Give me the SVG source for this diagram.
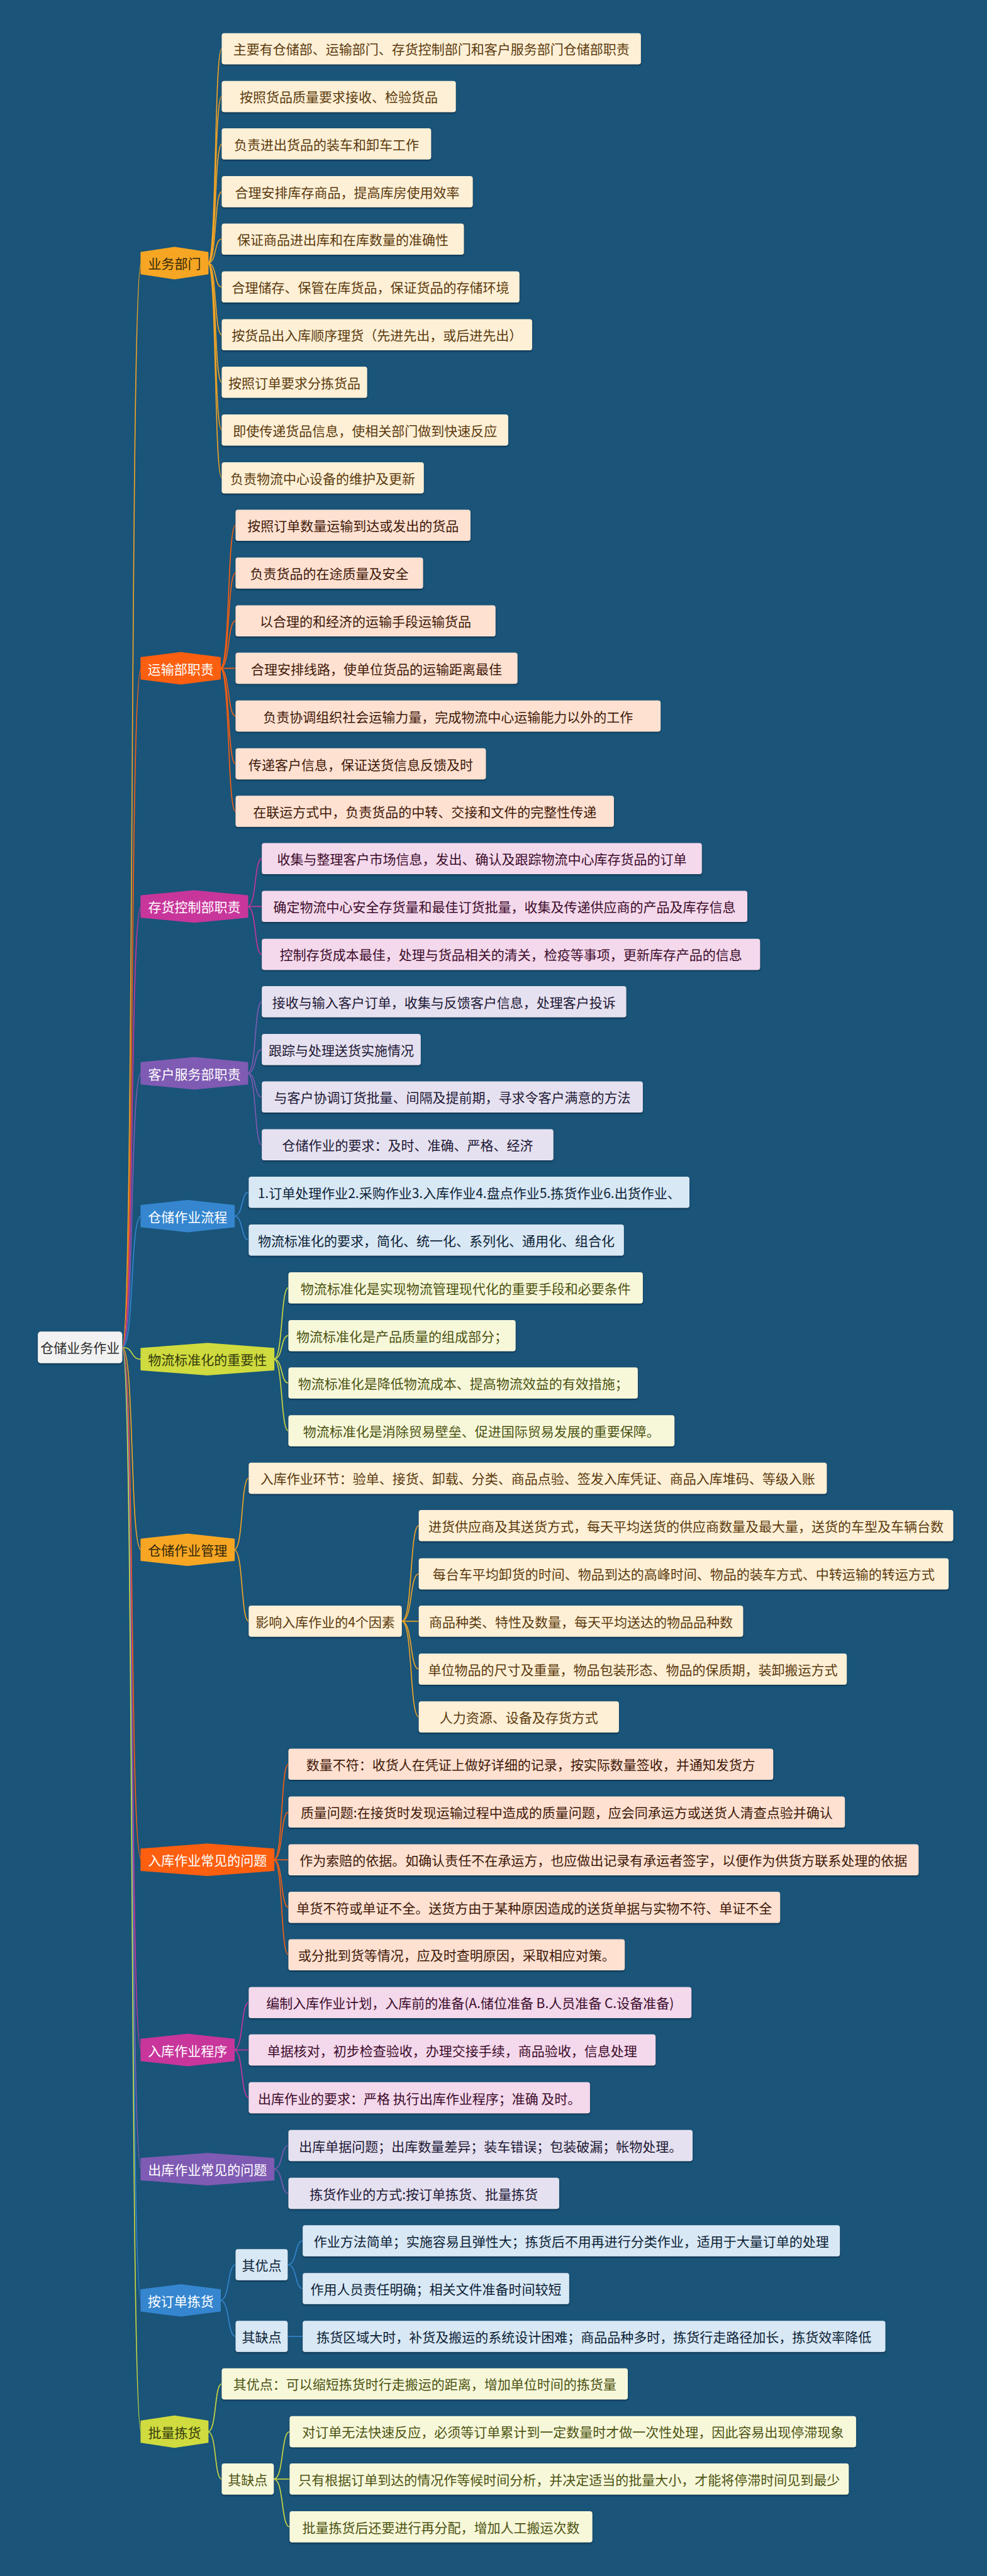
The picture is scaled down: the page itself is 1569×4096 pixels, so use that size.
<svg xmlns="http://www.w3.org/2000/svg" width="1569" height="4096" viewBox="0 0 1569 4096">
<defs>
<filter id="sh" x="-5%" y="-20%" width="110%" height="150%"><feDropShadow dx="0" dy="1.6" stdDeviation="0.9" flood-color="#06243a" flood-opacity="0.75"/></filter>
<style>
text{font-family:"Noto Sans CJK SC","Noto Sans",sans-serif;font-size:21px;text-anchor:middle;dominant-baseline:central}
.lf{filter:url(#sh)}
.l1{fill:#FEF0D6}.t1{fill:#5B3A0E}
.l2{fill:#FEE1D1}.t2{fill:#3E1808}
.l3{fill:#F4D8EB}.t3{fill:#3C0C2C}
.l4{fill:#E6E1F0}.t4{fill:#1C1835}
.l5{fill:#D8E8F5}.t5{fill:#0C2236}
.l6{fill:#F7F8DA}.t6{fill:#4C5312}
.hx{stroke-width:2;stroke-linejoin:round}
.h1{fill:#F6A623;stroke:#F6A623}.h2{fill:#FC5F0F;stroke:#FC5F0F}.h3{fill:#C8369B;stroke:#C8369B}
.h4{fill:#7F5BB4;stroke:#7F5BB4}.h5{fill:#3586CF;stroke:#3586CF}.h6{fill:#CFDB3E;stroke:#CFDB3E}
.hd{fill:#33270A}.hw{fill:#FFFFFF}.ho{fill:#333A0D}
#connectors path{fill:none;stroke-width:1.6}
.c1{stroke:#F6A623}.c2{stroke:#FC5F0F}.c3{stroke:#C8369B}.c4{stroke:#7F5BB4}.c5{stroke:#3586CF}.c6{stroke:#CFDB3E}
</style>
</defs>
<rect x="0" y="0" width="1569" height="4096" fill="#1A5479"/>

<g id="connectors">
<path class="c1" d="M194.3,2142.45 C214,2142.45 206,418.35 224.4,418.35"/>
<path class="c2" d="M194.3,2142.45 C214,2142.45 206,1062.65 224.4,1062.65"/>
<path class="c3" d="M194.3,2142.45 C214,2142.45 206,1441.45 224.4,1441.45"/>
<path class="c4" d="M194.3,2142.45 C214,2142.45 206,1706.6 224.4,1706.6"/>
<path class="c5" d="M194.3,2142.45 C214,2142.45 206,1933.65 224.4,1933.65"/>
<path class="c6" d="M194.3,2142.45 C214,2142.45 206,2161.15 224.4,2161.15"/>
<path class="c1" d="M194.3,2142.45 C214,2142.45 206,2464.25 224.4,2464.25"/>
<path class="c2" d="M194.3,2142.45 C214,2142.45 206,2957.1 224.4,2957.1"/>
<path class="c3" d="M194.3,2142.45 C214,2142.45 206,3259.6 224.4,3259.6"/>
<path class="c4" d="M194.3,2142.45 C214,2142.45 206,3449.05 224.4,3449.05"/>
<path class="c5" d="M194.3,2142.45 C214,2142.45 206,3657.8 224.4,3657.8"/>
<path class="c6" d="M194.3,2142.45 C214,2142.45 206,3866.5 224.4,3866.5"/>

<path class="c1" d="M330.4,418.35 C344.8,418.35 340.3,77.45 352.5,77.45"/>
<path class="c1" d="M330.4,418.35 C344.8,418.35 340.3,153.45 352.5,153.45"/>
<path class="c1" d="M330.4,418.35 C344.8,418.35 340.3,228.85 352.5,228.85"/>
<path class="c1" d="M330.4,418.35 C344.8,418.35 340.3,304.85 352.5,304.85"/>
<path class="c1" d="M330.4,418.35 C344.8,418.35 340.3,380.25 352.5,380.25"/>
<path class="c1" d="M330.4,418.35 C344.8,418.35 340.3,456.35 352.5,456.35"/>
<path class="c1" d="M330.4,418.35 C344.8,418.35 340.3,532.35 352.5,532.35"/>
<path class="c1" d="M330.4,418.35 C344.8,418.35 340.3,607.75 352.5,607.75"/>
<path class="c1" d="M330.4,418.35 C344.8,418.35 340.3,683.75 352.5,683.75"/>
<path class="c1" d="M330.4,418.35 C344.8,418.35 340.3,759.75 352.5,759.75"/>

<path class="c2" d="M350,1062.65 C365.9,1062.65 361,835.15 374.5,835.15"/>
<path class="c2" d="M350,1062.65 C365.9,1062.65 361,911.15 374.5,911.15"/>
<path class="c2" d="M350,1062.65 C365.9,1062.65 361,987.15 374.5,987.15"/>
<path class="c2" d="M350,1062.65 C365.9,1062.65 361,1062.55 374.5,1062.55"/>
<path class="c2" d="M350,1062.65 C365.9,1062.65 361,1138.55 374.5,1138.55"/>
<path class="c2" d="M350,1062.65 C365.9,1062.65 361,1214.55 374.5,1214.55"/>
<path class="c2" d="M350,1062.65 C365.9,1062.65 361,1289.95 374.5,1289.95"/>

<path class="c3" d="M393.5,1441.45 C408.3,1441.45 403.7,1365.35 416.2,1365.35"/>
<path class="c3" d="M393.5,1441.45 C408.3,1441.45 403.7,1441.35 416.2,1441.35"/>
<path class="c3" d="M393.5,1441.45 C408.3,1441.45 403.7,1517.45 416.2,1517.45"/>

<path class="c4" d="M393.5,1706.6 C408.3,1706.6 403.7,1592.85 416.2,1592.85"/>
<path class="c4" d="M393.5,1706.6 C408.3,1706.6 403.7,1668.85 416.2,1668.85"/>
<path class="c4" d="M393.5,1706.6 C408.3,1706.6 403.7,1744.25 416.2,1744.25"/>
<path class="c4" d="M393.5,1706.6 C408.3,1706.6 403.7,1820.25 416.2,1820.25"/>

<path class="c5" d="M372.1,1933.65 C387.2,1933.65 382.6,1895.65 395.4,1895.65"/>
<path class="c5" d="M372.1,1933.65 C387.2,1933.65 382.6,1971.65 395.4,1971.65"/>

<path class="c6" d="M435.2,2161.15 C450.3,2161.15 445.7,2047.65 458.5,2047.65"/>
<path class="c6" d="M435.2,2161.15 C450.3,2161.15 445.7,2123.65 458.5,2123.65"/>
<path class="c6" d="M435.2,2161.15 C450.3,2161.15 445.7,2199.05 458.5,2199.05"/>
<path class="c6" d="M435.2,2161.15 C450.3,2161.15 445.7,2275.05 458.5,2275.05"/>

<path class="c1" d="M372.1,2464.25 C387.2,2464.25 382.6,2350.45 395.4,2350.45"/>
<path class="c1" d="M372.1,2464.25 C387.2,2464.25 382.6,2577.85 395.4,2577.85"/>
<path class="c1" d="M638.7,2577.85 C656.3,2577.85 650.9,2425.85 665.7,2425.85"/>
<path class="c1" d="M638.7,2577.85 C656.3,2577.85 650.9,2502.45 665.7,2502.45"/>
<path class="c1" d="M638.7,2577.85 C656.3,2577.85 650.9,2577.85 665.7,2577.85"/>
<path class="c1" d="M638.7,2577.85 C656.3,2577.85 650.9,2653.95 665.7,2653.95"/>
<path class="c1" d="M638.7,2577.85 C656.3,2577.85 650.9,2729.95 665.7,2729.95"/>

<path class="c2" d="M435.2,2957.1 C450.3,2957.1 445.7,2805.35 458.5,2805.35"/>
<path class="c2" d="M435.2,2957.1 C450.3,2957.1 445.7,2881.35 458.5,2881.35"/>
<path class="c2" d="M435.2,2957.1 C450.3,2957.1 445.7,2957.35 458.5,2957.35"/>
<path class="c2" d="M435.2,2957.1 C450.3,2957.1 445.7,3032.75 458.5,3032.75"/>
<path class="c2" d="M435.2,2957.1 C450.3,2957.1 445.7,3108.15 458.5,3108.15"/>

<path class="c3" d="M372.1,3259.6 C387.2,3259.6 382.6,3184.15 395.4,3184.15"/>
<path class="c3" d="M372.1,3259.6 C387.2,3259.6 382.6,3259.55 395.4,3259.55"/>
<path class="c3" d="M372.1,3259.6 C387.2,3259.6 382.6,3335.55 395.4,3335.55"/>

<path class="c4" d="M435.2,3449.05 C450.3,3449.05 445.7,3411.55 458.5,3411.55"/>
<path class="c4" d="M435.2,3449.05 C450.3,3449.05 445.7,3487.55 458.5,3487.55"/>

<path class="c5" d="M350,3657.8 C365.9,3657.8 361,3600.95 374.5,3600.95"/>
<path class="c5" d="M350,3657.8 C365.9,3657.8 361,3715.05 374.5,3715.05"/>
<path class="c5" d="M457.3,3600.95 C472.8,3600.95 468.1,3562.95 481.2,3562.95"/>
<path class="c5" d="M457.3,3600.95 C472.8,3600.95 468.1,3638.95 481.2,3638.95"/>
<path class="c5" d="M457.3,3715.05 L481.2,3715.05"/>

<path class="c6" d="M330.4,3866.5 C344.8,3866.5 340.3,3790.45 352.5,3790.45"/>
<path class="c6" d="M330.4,3866.5 C344.8,3866.5 340.3,3941.85 352.5,3941.85"/>
<path class="c6" d="M435.2,3941.85 C451.6,3941.85 446.5,3866.45 460.4,3866.45"/>
<path class="c6" d="M435.2,3941.85 C451.6,3941.85 446.5,3941.85 460.4,3941.85"/>
<path class="c6" d="M435.2,3941.85 C451.6,3941.85 446.5,4017.85 460.4,4017.85"/>
</g>

<g id="root"><rect class="lf" x="60.1" y="2117.3" width="134.2" height="50.3" rx="5" fill="#F2F2F2"/><text x="127.2" y="2142.45" fill="#2b2b2b">仓储业务作业</text></g>

<g id="b1"><polygon class="hx h1" points="224.4,401.5 277.4,393.5 330.4,401.5 330.4,435.2 277.4,443.2 224.4,435.2"/><text class="hd" x="277.4" y="418.35">业务部门</text></g>
<g id="b1n1"><rect class="lf l1" x="352.5" y="52.7" width="666.3" height="49.5" rx="4"/><text class="t1" x="685.65" y="77.45">主要有仓储部、运输部门、存货控制部门和客户服务部门仓储部职责</text></g>
<g id="b1n2"><rect class="lf l1" x="352.5" y="128.7" width="372.1" height="49.5" rx="4"/><text class="t1" x="538.55" y="153.45">按照货品质量要求接收、检验货品</text></g>
<g id="b1n3"><rect class="lf l1" x="352.5" y="204.1" width="332.8" height="49.5" rx="4"/><text class="t1" x="518.9" y="228.85">负责进出货品的装车和卸车工作</text></g>
<g id="b1n4"><rect class="lf l1" x="352.5" y="280.1" width="399" height="49.5" rx="4"/><text class="t1" x="552" y="304.85">合理安排库存商品，提高库房使用效率</text></g>
<g id="b1n5"><rect class="lf l1" x="352.5" y="355.5" width="384.9" height="49.5" rx="4"/><text class="t1" x="544.95" y="380.25">保证商品进出库和在库数量的准确性</text></g>
<g id="b1n6"><rect class="lf l1" x="352.5" y="431.6" width="473.2" height="49.5" rx="4"/><text class="t1" x="589.1" y="456.35">合理储存、保管在库货品，保证货品的存储环境</text></g>
<g id="b1n7"><rect class="lf l1" x="352.5" y="507.6" width="493.4" height="49.5" rx="4"/><text class="t1" x="599.2" y="532.35">按货品出入库顺序理货（先进先出，或后进先出）</text></g>
<g id="b1n8"><rect class="lf l1" x="352.5" y="583" width="231.1" height="49.5" rx="4"/><text class="t1" x="468.05" y="607.75">按照订单要求分拣货品</text></g>
<g id="b1n9"><rect class="lf l1" x="352.5" y="659" width="455.4" height="49.5" rx="4"/><text class="t1" x="580.2" y="683.75">即使传递货品信息，使相关部门做到快速反应</text></g>
<g id="b1n10"><rect class="lf l1" x="352.5" y="735" width="321.2" height="49.5" rx="4"/><text class="t1" x="513.1" y="759.75">负责物流中心设备的维护及更新</text></g>

<g id="b2"><polygon class="hx h2" points="224.4,1045.8 287.2,1037.8 350,1045.8 350,1079.5 287.2,1087.5 224.4,1079.5"/><text class="hw" x="287.2" y="1062.65">运输部职责</text></g>
<g id="b2n1"><rect class="lf l2" x="374.5" y="810.4" width="373.4" height="49.5" rx="4"/><text class="t2" x="561.2" y="835.15">按照订单数量运输到达或发出的货品</text></g>
<g id="b2n2"><rect class="lf l2" x="374.5" y="886.4" width="298" height="49.5" rx="4"/><text class="t2" x="523.5" y="911.15">负责货品的在途质量及安全</text></g>
<g id="b2n3"><rect class="lf l2" x="374.5" y="962.4" width="413.2" height="49.5" rx="4"/><text class="t2" x="581.1" y="987.15">以合理的和经济的运输手段运输货品</text></g>
<g id="b2n4"><rect class="lf l2" x="374.5" y="1037.8" width="448.1" height="49.5" rx="4"/><text class="t2" x="598.55" y="1062.55">合理安排线路，使单位货品的运输距离最佳</text></g>
<g id="b2n5"><rect class="lf l2" x="374.5" y="1113.8" width="675.6" height="49.5" rx="4"/><text class="t2" x="712.3" y="1138.55">负责协调组织社会运输力量，完成物流中心运输能力以外的工作</text></g>
<g id="b2n6"><rect class="lf l2" x="374.5" y="1189.8" width="397.9" height="49.5" rx="4"/><text class="t2" x="573.45" y="1214.55">传递客户信息，保证送货信息反馈及时</text></g>
<g id="b2n7"><rect class="lf l2" x="374.5" y="1265.2" width="601.4" height="49.5" rx="4"/><text class="t2" x="675.2" y="1289.95">在联运方式中，负责货品的中转、交接和文件的完整性传递</text></g>

<g id="b3"><polygon class="hx h3" points="224.4,1424.6 308.95,1416.6 393.5,1424.6 393.5,1458.3 308.95,1466.3 224.4,1458.3"/><text class="hw" x="308.95" y="1441.45">存货控制部职责</text></g>
<g id="b3n1"><rect class="lf l3" x="416.2" y="1340.6" width="699.5" height="49.5" rx="4"/><text class="t3" x="765.95" y="1365.35">收集与整理客户市场信息，发出、确认及跟踪物流中心库存货品的订单</text></g>
<g id="b3n2"><rect class="lf l3" x="416.2" y="1416.6" width="771.8" height="49.5" rx="4"/><text class="t3" x="802.1" y="1441.35">确定物流中心安全存货量和最佳订货批量，收集及传递供应商的产品及库存信息</text></g>
<g id="b3n3"><rect class="lf l3" x="416.2" y="1492.7" width="792" height="49.5" rx="4"/><text class="t3" x="812.2" y="1517.45">控制存货成本最佳，处理与货品相关的清关，检疫等事项，更新库存产品的信息</text></g>

<g id="b4"><polygon class="hx h4" points="224.4,1689.8 308.95,1681.8 393.5,1689.8 393.5,1723.4 308.95,1731.4 224.4,1723.4"/><text class="hw" x="308.95" y="1706.6">客户服务部职责</text></g>
<g id="b4n1"><rect class="lf l4" x="416.2" y="1568.1" width="579.3" height="49.5" rx="4"/><text class="t4" x="705.85" y="1592.85">接收与输入客户订单，收集与反馈客户信息，处理客户投诉</text></g>
<g id="b4n2"><rect class="lf l4" x="416.2" y="1644.1" width="252.6" height="49.5" rx="4"/><text class="t4" x="542.5" y="1668.85">跟踪与处理送货实施情况</text></g>
<g id="b4n3"><rect class="lf l4" x="416.2" y="1719.5" width="605.7" height="49.5" rx="4"/><text class="t4" x="719.05" y="1744.25">与客户协调订货批量、间隔及提前期，寻求令客户满意的方法</text></g>
<g id="b4n4"><rect class="lf l4" x="416.2" y="1795.5" width="463.5" height="49.5" rx="4"/><text class="t4" x="647.95" y="1820.25">仓储作业的要求：及时、准确、严格、经济</text></g>

<g id="b5"><polygon class="hx h5" points="224.4,1916.9 298.25,1908.9 372.1,1916.9 372.1,1950.4 298.25,1958.4 224.4,1950.4"/><text class="hw" x="298.25" y="1933.65">仓储作业流程</text></g>
<g id="b5n1"><rect class="lf l5" x="395.4" y="1870.9" width="700.6" height="49.5" rx="4"/><text class="t5" x="745.7" y="1895.65">1.订单处理作业2.采购作业3.入库作业4.盘点作业5.拣货作业6.出货作业、</text></g>
<g id="b5n2"><rect class="lf l5" x="395.4" y="1946.9" width="596.4" height="49.5" rx="4"/><text class="t5" x="693.6" y="1971.65">物流标准化的要求，简化、统一化、系列化、通用化、组合化</text></g>

<g id="b6"><polygon class="hx h6" points="224.4,2144.3 329.8,2136.3 435.2,2144.3 435.2,2178 329.8,2186 224.4,2178"/><text class="ho" x="329.8" y="2161.15">物流标准化的重要性</text></g>
<g id="b6n1"><rect class="lf l6" x="458.5" y="2022.9" width="563.4" height="49.5" rx="4"/><text class="t6" x="740.2" y="2047.65">物流标准化是实现物流管理现代化的重要手段和必要条件</text></g>
<g id="b6n2"><rect class="lf l6" x="458.5" y="2098.9" width="361.1" height="49.5" rx="4"/><text class="t6" x="639.05" y="2123.65">物流标准化是产品质量的组成部分；</text></g>
<g id="b6n3"><rect class="lf l6" x="458.5" y="2174.3" width="555.4" height="49.5" rx="4"/><text class="t6" x="736.2" y="2199.05">物流标准化是降低物流成本、提高物流效益的有效措施；</text></g>
<g id="b6n4"><rect class="lf l6" x="458.5" y="2250.3" width="613.6" height="49.5" rx="4"/><text class="t6" x="765.3" y="2275.05">物流标准化是消除贸易壁垒、促进国际贸易发展的重要保障。</text></g>

<g id="b7"><polygon class="hx h1" points="224.4,2447.5 298.25,2439.5 372.1,2447.5 372.1,2481 298.25,2489 224.4,2481"/><text class="hd" x="298.25" y="2464.25">仓储作业管理</text></g>
<g id="b7n1"><rect class="lf l1" x="395.4" y="2325.7" width="918.9" height="49.5" rx="4"/><text class="t1" x="854.85" y="2350.45">入库作业环节：验单、接货、卸载、分类、商品点验、签发入库凭证、商品入库堆码、等级入账</text></g>
<g id="b7n2"><rect class="lf l1" x="395.4" y="2553.1" width="243.3" height="49.5" rx="4"/><text class="t1" x="517.05" y="2577.85">影响入库作业的4个因素</text></g>
<g id="b7n2a"><rect class="lf l1" x="665.7" y="2401.1" width="849.6" height="49.5" rx="4"/><text class="t1" x="1090.5" y="2425.85">进货供应商及其送货方式，每天平均送货的供应商数量及最大量，送货的车型及车辆台数</text></g>
<g id="b7n2b"><rect class="lf l1" x="665.7" y="2477.7" width="842.3" height="49.5" rx="4"/><text class="t1" x="1086.85" y="2502.45">每台车平均卸货的时间、物品到达的高峰时间、物品的装车方式、中转运输的转运方式</text></g>
<g id="b7n2c"><rect class="lf l1" x="665.7" y="2553.1" width="515.6" height="49.5" rx="4"/><text class="t1" x="923.5" y="2577.85">商品种类、特性及数量，每天平均送达的物品品种数</text></g>
<g id="b7n2d"><rect class="lf l1" x="665.7" y="2629.2" width="680.4" height="49.5" rx="4"/><text class="t1" x="1005.9" y="2653.95">单位物品的尺寸及重量，物品包装形态、物品的保质期，装卸搬运方式</text></g>
<g id="b7n2e"><rect class="lf l1" x="665.7" y="2705.2" width="318.2" height="49.5" rx="4"/><text class="t1" x="824.8" y="2729.95">人力资源、设备及存货方式</text></g>

<g id="b8"><polygon class="hx h2" points="224.4,2940.3 329.8,2932.3 435.2,2940.3 435.2,2973.9 329.8,2981.9 224.4,2973.9"/><text class="hw" x="329.8" y="2957.1">入库作业常见的问题</text></g>
<g id="b8n1"><rect class="lf l2" x="458.5" y="2780.6" width="770.6" height="49.5" rx="4"/><text class="t2" x="843.8" y="2805.35">数量不符：收货人在凭证上做好详细的记录，按实际数量签收，并通知发货方</text></g>
<g id="b8n2"><rect class="lf l2" x="458.5" y="2856.6" width="884.6" height="49.5" rx="4"/><text class="t2" x="900.8" y="2881.35">质量问题:在接货时发现运输过程中造成的质量问题，应会同承运方或送货人清查点验并确认</text></g>
<g id="b8n3"><rect class="lf l2" x="458.5" y="2932.6" width="1001.7" height="49.5" rx="4"/><text class="t2" x="959.35" y="2957.35">作为索赔的依据。如确认责任不在承运方，也应做出记录有承运者签字，以便作为供货方联系处理的依据</text></g>
<g id="b8n4"><rect class="lf l2" x="458.5" y="3008" width="781.6" height="49.5" rx="4"/><text class="t2" x="849.3" y="3032.75">单货不符或单证不全。送货方由于某种原因造成的送货单据与实物不符、单证不全</text></g>
<g id="b8n5"><rect class="lf l2" x="458.5" y="3083.4" width="534.6" height="49.5" rx="4"/><text class="t2" x="725.8" y="3108.15">或分批到货等情况，应及时查明原因，采取相应对策。</text></g>

<g id="b9"><polygon class="hx h3" points="224.4,3242.8 298.25,3234.8 372.1,3242.8 372.1,3276.4 298.25,3284.4 224.4,3276.4"/><text class="hw" x="298.25" y="3259.6">入库作业程序</text></g>
<g id="b9n1"><rect class="lf l3" x="395.4" y="3159.4" width="703.7" height="49.5" rx="4"/><text class="t3" x="747.25" y="3184.15">编制入库作业计划，入库前的准备(A.储位准备 B.人员准备 C.设备准备)</text></g>
<g id="b9n2"><rect class="lf l3" x="395.4" y="3234.8" width="646.7" height="49.5" rx="4"/><text class="t3" x="718.75" y="3259.55">单据核对，初步检查验收，办理交接手续，商品验收，信息处理</text></g>
<g id="b9n3"><rect class="lf l3" x="395.4" y="3310.8" width="542.5" height="49.5" rx="4"/><text class="t3" x="666.65" y="3335.55">出库作业的要求：严格 执行出库作业程序；准确 及时。</text></g>

<g id="b10"><polygon class="hx h4" points="224.4,3432.2 329.8,3424.2 435.2,3432.2 435.2,3465.9 329.8,3473.9 224.4,3465.9"/><text class="hw" x="329.8" y="3449.05">出库作业常见的问题</text></g>
<g id="b10n1"><rect class="lf l4" x="458.5" y="3386.8" width="642.5" height="49.5" rx="4"/><text class="t4" x="779.75" y="3411.55">出库单据问题；出库数量差异；装车错误；包装破漏；帐物处理。</text></g>
<g id="b10n2"><rect class="lf l4" x="458.5" y="3462.8" width="430.4" height="49.5" rx="4"/><text class="t4" x="673.7" y="3487.55">拣货作业的方式:按订单拣货、批量拣货</text></g>

<g id="b11"><polygon class="hx h5" points="224.4,3641 287.2,3633 350,3641 350,3674.6 287.2,3682.6 224.4,3674.6"/><text class="hw" x="287.2" y="3657.8">按订单拣货</text></g>
<g id="b11a"><rect class="lf l5" x="374.5" y="3576.2" width="82.8" height="49.5" rx="4"/><text class="t5" x="415.9" y="3600.95">其优点</text></g>
<g id="b11b"><rect class="lf l5" x="374.5" y="3690.3" width="82.8" height="49.5" rx="4"/><text class="t5" x="415.9" y="3715.05">其缺点</text></g>
<g id="b11a1"><rect class="lf l5" x="481.2" y="3538.2" width="853.9" height="49.5" rx="4"/><text class="t5" x="908.15" y="3562.95">作业方法简单；实施容易且弹性大；拣货后不用再进行分类作业，适用于大量订单的处理</text></g>
<g id="b11a2"><rect class="lf l5" x="481.2" y="3614.2" width="423.6" height="49.5" rx="4"/><text class="t5" x="693" y="3638.95">作用人员责任明确；相关文件准备时间较短</text></g>
<g id="b11b1"><rect class="lf l5" x="481.2" y="3690.3" width="926.2" height="49.5" rx="4"/><text class="t5" x="944.3" y="3715.05">拣货区域大时，补货及搬运的系统设计困难；商品品种多时，拣货行走路径加长，拣货效率降低</text></g>

<g id="b12"><polygon class="hx h6" points="224.4,3849.7 277.4,3841.7 330.4,3849.7 330.4,3883.3 277.4,3891.3 224.4,3883.3"/><text class="ho" x="277.4" y="3866.5">批量拣货</text></g>
<g id="b12a"><rect class="lf l6" x="352.5" y="3765.7" width="645.5" height="49.5" rx="4"/><text class="t6" x="675.25" y="3790.45">其优点：可以缩短拣货时行走搬运的距离，增加单位时间的拣货量</text></g>
<g id="b12b"><rect class="lf l6" x="352.5" y="3917.1" width="82.7" height="49.5" rx="4"/><text class="t6" x="393.85" y="3941.85">其缺点</text></g>
<g id="b12b1"><rect class="lf l6" x="460.4" y="3841.7" width="900.5" height="49.5" rx="4"/><text class="t6" x="910.65" y="3866.45">对订单无法快速反应，必须等订单累计到一定数量时才做一次性处理，因此容易出现停滞现象</text></g>
<g id="b12b2"><rect class="lf l6" x="460.4" y="3917.1" width="888.8" height="49.5" rx="4"/><text class="t6" x="904.8" y="3941.85">只有根据订单到达的情况作等候时间分析，并决定适当的批量大小，才能将停滞时间见到最少</text></g>
<g id="b12b3"><rect class="lf l6" x="460.4" y="3993.1" width="481.2" height="49.5" rx="4"/><text class="t6" x="701" y="4017.85">批量拣货后还要进行再分配，增加人工搬运次数</text></g>
</svg>
